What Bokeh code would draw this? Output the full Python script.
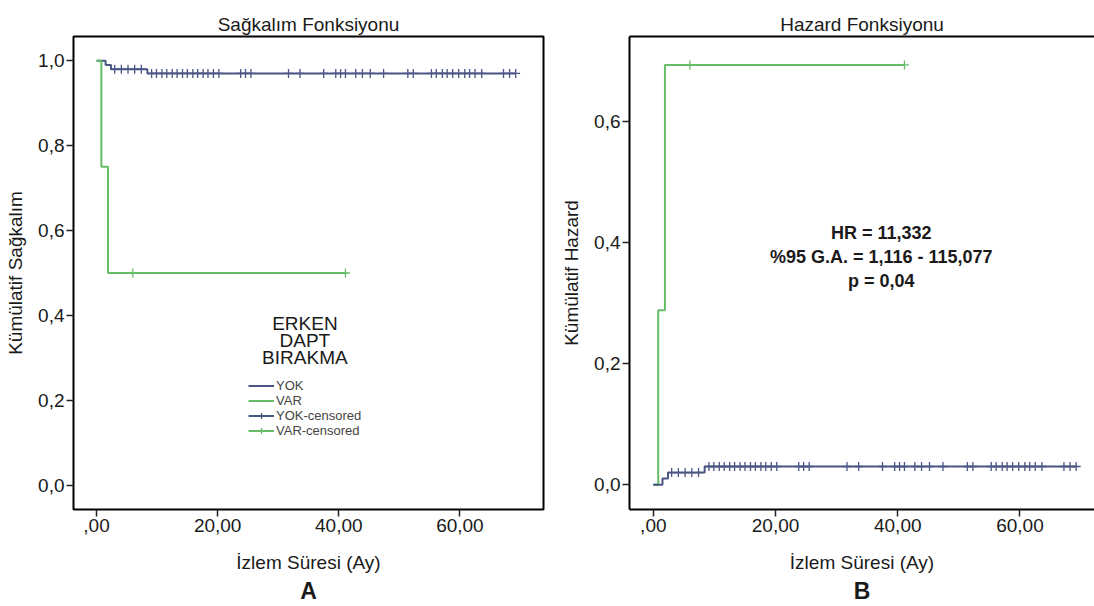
import numpy as np
from bokeh.plotting import figure
from bokeh.layouts import row
from bokeh.models import FixedTicker, Legend, LegendItem, Label, Title, Range1d, LinearAxis
from bokeh.embed import file_html
from bokeh.resources import INLINE

# ---------------- data ----------------
yok_times = [0.0, 1.5, 2.4, 8.4, 69.2]
yok_surv = [1.0, 0.99, 0.98, 0.97, 0.97]
yok_haz = [0.0, 0.010, 0.020, 0.030, 0.030]

var_times = [0.0, 0.8, 1.9, 41.1]
var_surv = [1.0, 0.75, 0.50, 0.50]
var_haz = [0.0, 0.288, 0.693, 0.693]

yok_censored = [3.0, 4.1, 5.2, 6.3, 7.4, 9.1, 9.9, 10.8, 11.6, 12.5, 13.3, 14.2, 15.0,
                15.9, 16.7, 17.6, 18.4, 19.3, 20.2, 23.8, 24.6, 25.5, 31.7, 33.6, 37.5,
                39.5, 40.3, 41.1, 42.8, 43.9, 45.2, 47.4, 51.4, 52.3, 55.3, 56.1, 57.1,
                57.9, 58.8, 59.8, 60.8, 61.6, 62.5, 63.6, 67.2, 68.2, 69.2]
var_censored = [6.0, 41.1]

x_tick_vals = [0, 20, 40, 60]
x_tick_labels = [",00", "20,00", "40,00", "60,00"]
surv_tick_vals = [0.0, 0.2, 0.4, 0.6, 0.8, 1.0]
surv_tick_labels = ["0,0", "0,2", "0,4", "0,6", "0,8", "1,0"]
haz_tick_vals = [0.0, 0.2, 0.4, 0.6]
haz_tick_labels = ["0,0", "0,2", "0,4", "0,6"]

legend_title_lines = ["ERKEN", "DAPT", "BIRAKMA"]
hr_lines = ["HR = 11,332", "%95 G.A. = 1,116 - 115,077", "p = 0,04"]

BLUE = "#4a5683"
GREEN = "#66bd66"
FONT = "Liberation Sans"
TXT = "#1a1a1a"


def step_at(times, vals, t):
    idx = np.searchsorted(np.array(times), np.array(t), side="right") - 1
    return list(np.array(vals)[idx])


def style(p, xticks, xlabels, yticks, ylabels):
    p.toolbar_location = None
    p.xgrid.visible = False
    p.ygrid.visible = False
    for ax in p.xaxis + p.yaxis:
        ax.major_label_text_font = FONT
        ax.major_label_text_font_size = "19px"
        ax.major_label_text_color = TXT
        ax.axis_label_text_font = FONT
        ax.axis_label_text_font_size = "19px"
        ax.axis_label_text_font_style = "normal"
        ax.axis_label_text_color = TXT
        ax.major_tick_in = 0
        ax.major_tick_out = 7
        ax.major_tick_line_color = "#222222"
        ax.major_tick_line_width = 1.5
        ax.minor_tick_line_color = None
    p.xaxis.ticker = FixedTicker(ticks=xticks)
    p.xaxis.major_label_overrides = dict(zip(xticks, xlabels))
    p.yaxis.ticker = FixedTicker(ticks=yticks)
    p.yaxis.major_label_overrides = dict(zip(yticks, ylabels))
    p.xaxis.major_label_standoff = 2
    p.yaxis.major_label_standoff = 2
    p.xaxis.axis_label_standoff = 17
    p.yaxis.axis_label_standoff = 9
    p.title.text_font = FONT
    p.title.text_font_size = "19px"
    p.title.text_font_style = "normal"
    p.title.text_color = TXT
    p.title.align = "center"
    p.title.standoff = 4


# ---------------- left: survival ----------------
p1 = figure(width=550, height=606, output_backend="svg", toolbar_location=None,
            x_range=Range1d(-3.8, 73.8), y_range=Range1d(-0.057, 1.057),
            title="Sağkalım Fonksiyonu",
            x_axis_label="İzlem Süresi (Ay)", y_axis_label="Kümülatif Sağkalım",
            min_border_left=73, min_border_right=7, min_border_top=36, min_border_bottom=97)
style(p1, x_tick_vals, x_tick_labels, surv_tick_vals, surv_tick_labels)
p1.outline_line_color = "black"
p1.outline_line_width = 2
p1.outline_line_alpha = 1
p1.xaxis.axis_line_color = None
p1.yaxis.axis_line_color = None

r_yok = p1.step(yok_times, yok_surv, mode="after", line_color=BLUE, line_width=2)
r_var = p1.step(var_times, var_surv, mode="after", line_color=GREEN, line_width=2)
r_yok_c = p1.scatter(yok_censored, step_at(yok_times, yok_surv, yok_censored), marker="cross",
                     size=9, line_color=BLUE, line_width=1.3)
r_var_c = p1.scatter(var_censored, step_at(var_times, var_surv, var_censored), marker="cross",
                     size=9, line_color=GREEN, line_width=1.3)

for i, t in enumerate(legend_title_lines):
    p1.add_layout(Label(x=34.4, y=0.38 - 0.04 * i, text=t, text_align="center",
                        text_baseline="middle", text_font=FONT, text_font_size="19px",
                        text_color=TXT))

legend = Legend(items=[
    LegendItem(label="YOK", renderers=[r_yok]),
    LegendItem(label="VAR", renderers=[r_var]),
    LegendItem(label="YOK-censored", renderers=[r_yok, r_yok_c]),
    LegendItem(label="VAR-censored", renderers=[r_var, r_var_c]),
], location=(175, 71), orientation="vertical")
legend.background_fill_alpha = 0
legend.border_line_color = None
legend.label_text_font = FONT
legend.label_text_font_size = "13px"
legend.label_text_color = "#444444"
legend.glyph_width = 26
legend.glyph_height = 15
legend.label_height = 15
legend.spacing = 0
legend.padding = 0
legend.margin = 0
legend.label_standoff = 2
p1.add_layout(legend, "center")
p1.add_layout(Title(text="A", align="center", text_font=FONT, text_font_size="23px",
                    text_font_style="bold", text_color=TXT, standoff=0), "below")

# ---------------- right: hazard ----------------
p2 = figure(width=544, height=606, output_backend="svg", toolbar_location=None,
            x_range=Range1d(-3.9, 72.2), y_range=Range1d(-0.041, 0.740),
            title="Hazard Fonksiyonu",
            x_axis_label="İzlem Süresi (Ay)", y_axis_label="Kümülatif Hazard",
            min_border_left=79, min_border_right=0, min_border_top=36, min_border_bottom=97)
style(p2, x_tick_vals, x_tick_labels, haz_tick_vals, haz_tick_labels)
p2.outline_line_color = None
p2.xaxis.axis_line_color = "black"
p2.xaxis.axis_line_width = 2
p2.yaxis.axis_line_color = "black"
p2.yaxis.axis_line_width = 2
top_axis = LinearAxis(ticker=FixedTicker(ticks=[]), axis_line_width=2, axis_line_color="black",
                      major_tick_line_color=None, minor_tick_line_color=None,
                      major_label_text_font_size="0px")
p2.add_layout(top_axis, "above")

p2.step(var_times, var_haz, mode="after", line_color=GREEN, line_width=2)
p2.step(yok_times, yok_haz, mode="after", line_color=BLUE, line_width=2)
p2.scatter(var_censored, step_at(var_times, var_haz, var_censored), marker="cross",
           size=9, line_color=GREEN, line_width=1.3)
p2.scatter(yok_censored, step_at(yok_times, yok_haz, yok_censored), marker="cross",
           size=9, line_color=BLUE, line_width=1.3)

for i, t in enumerate(hr_lines):
    p2.add_layout(Label(x=37.3, y=0.415 - 0.039 * i, text=t, text_align="center",
                        text_baseline="middle", text_font=FONT, text_font_size="18px",
                        text_font_style="bold", text_color=TXT))
p2.add_layout(Title(text="B", align="center", text_font=FONT, text_font_size="23px",
                    text_font_style="bold", text_color=TXT, standoff=0), "below")

layout = row(p1, p2)
open("out.html", "w").write(file_html(layout, INLINE))
